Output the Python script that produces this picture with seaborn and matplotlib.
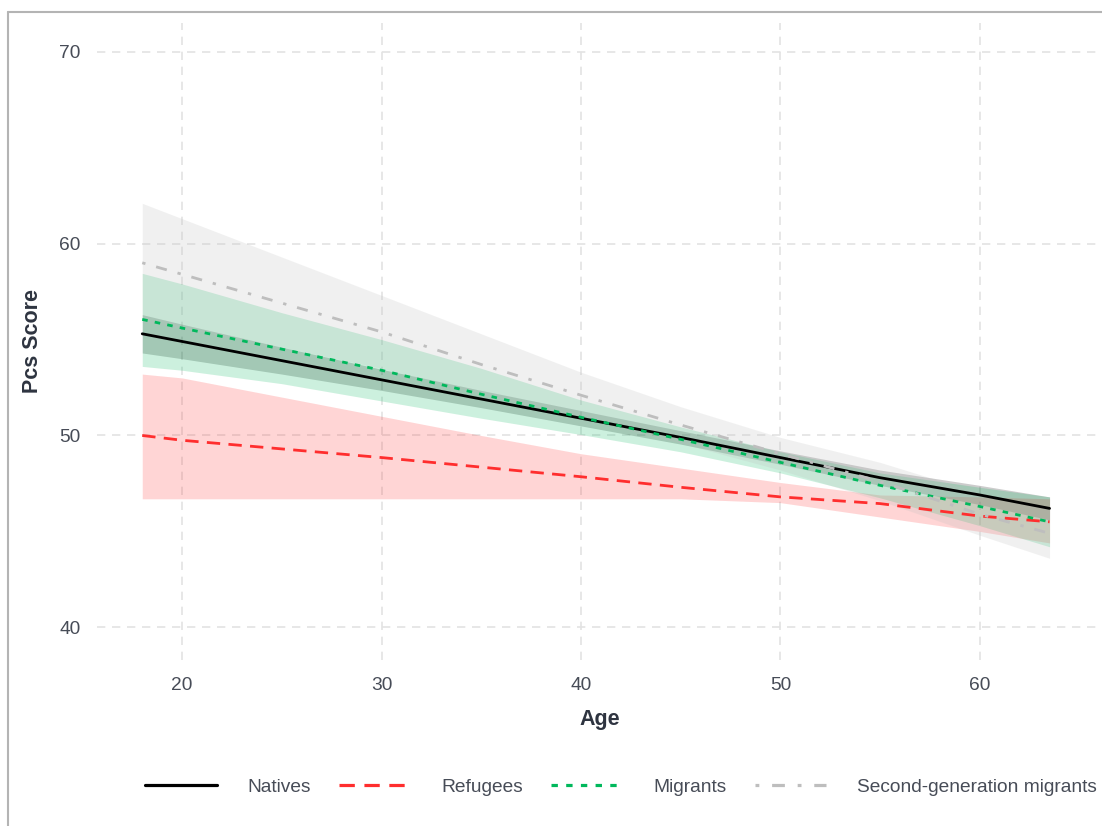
import numpy as np
import pandas as pd
import matplotlib
matplotlib.use('Agg')
import matplotlib.pyplot as plt
import seaborn as sns
from matplotlib.lines import Line2D

# Values
ages = [18, 20, 25, 30, 35, 40, 45, 50, 55, 60, 63.5]

natives = [55.3, 54.9, 53.9, 52.9, 51.9, 50.9, 49.9, 48.85, 47.8, 46.9, 46.2]
natives_lo = [54.3, 54.0, 53.2, 52.35, 51.45, 50.5, 49.55, 48.5, 47.4, 46.4, 45.6]
natives_hi = [56.3, 55.8, 54.6, 53.45, 52.35, 51.3, 50.25, 49.2, 48.2, 47.4, 46.8]

refugees = [50.0, 49.75, 49.3, 48.85, 48.35, 47.85, 47.3, 46.8, 46.45, 45.8, 45.5]
refugees_lo = [46.7, 46.7, 46.7, 46.7, 46.7, 46.7, 46.7, 46.5, 45.75, 45.0, 44.4]
refugees_hi = [53.2, 53.0, 52.0, 51.0, 50.0, 49.05, 48.3, 47.55, 46.9, 46.8, 46.7]

migrants = [56.05, 55.6, 54.5, 53.4, 52.15, 50.95, 49.8, 48.6, 47.4, 46.3, 45.5]
migrants_lo = [53.6, 53.4, 52.7, 51.8, 50.9, 50.05, 49.15, 48.05, 46.75, 45.3, 44.2]
migrants_hi = [58.45, 57.9, 56.4, 55.0, 53.5, 51.85, 50.45, 49.15, 48.05, 47.3, 46.8]

second_gen = [59.0, 58.4, 56.9, 55.4, 53.7, 52.1, 50.55, 49.05, 47.6, 45.9, 44.9]
second_gen_lo = [55.9, 55.6, 54.6, 53.5, 52.2, 50.9, 49.6, 48.2, 46.6, 44.8, 43.6]
second_gen_hi = [62.1, 61.3, 59.3, 57.3, 55.3, 53.3, 51.5, 49.9, 48.6, 47.0, 46.2]

groups = ['Natives', 'Refugees', 'Migrants', 'Second-generation migrants']
line_colors = ['#000000', '#FF2E2E', '#00B85C', '#BEBEBE']
fill_colors = ['#000000', '#FF1A1A', '#00B85C', '#BEBEBE']
fill_alpha = [0.2, 0.18, 0.2, 0.22]

series = {
    'Natives': (natives, natives_lo, natives_hi),
    'Refugees': (refugees, refugees_lo, refugees_hi),
    'Migrants': (migrants, migrants_lo, migrants_hi),
    'Second-generation migrants': (second_gen, second_gen_lo, second_gen_hi),
}

rows = []
for g in groups:
    for a, v in zip(ages, series[g][0]):
        rows.append({'Age': a, 'Pcs Score': v, 'Group': g})
df = pd.DataFrame(rows)

sns.set_style('white')
plt.rcParams['font.family'] = ['Liberation Sans', 'DejaVu Sans']

fig = plt.figure(figsize=(11.02, 8.26), dpi=100)
ax = fig.add_axes([0.088, 0.201, 0.912, 0.7712])

# confidence ribbons
for g, c, al in zip(groups, fill_colors, fill_alpha):
    _, lo, hi = series[g]
    ax.fill_between(ages, lo, hi, color=c, alpha=al, linewidth=0, zorder=1)

dashes = {
    'Natives': '',
    'Refugees': (4.8, 3),
    'Migrants': (2, 2.6),
    'Second-generation migrants': (1.2, 4, 4, 4),
}
sns.lineplot(data=df, x='Age', y='Pcs Score', hue='Group', style='Group',
             hue_order=groups, style_order=groups,
             palette=dict(zip(groups, line_colors)), dashes=dashes,
             linewidth=2.0, ax=ax, zorder=3)

ax.set_xlim(15.73, 66.13)
ax.set_ylim(38.3, 71.5)
ax.set_xticks([20, 30, 40, 50, 60])
ax.set_yticks([40, 50, 60, 70])
ax.grid(True, color='#E3E3E3', linewidth=1.2, dashes=(5, 4))
ax.set_axisbelow(True)
for s in ax.spines.values():
    s.set_visible(False)
ax.tick_params(axis='both', length=0, pad=12, labelsize=13.8, labelcolor='#474C57')

ax.set_xlabel('Age', fontsize=15.5, fontweight='bold', color='#2E3440')
ax.set_ylabel('Pcs Score', fontsize=15.5, fontweight='bold', color='#2E3440')
ax.xaxis.set_label_coords(0.5, -0.077)
ax.yaxis.set_label_coords(-0.0537, 0.5)

handles, labels = ax.get_legend_handles_labels()
ax.get_legend().remove()
for h in handles:
    h.set_linewidth(2.3)
fig.legend(handles, labels, loc='center left', bbox_to_anchor=(0.1316, 0.047),
           ncol=4, frameon=False, fontsize=13.8, handlelength=3.75,
           handletextpad=1.6, columnspacing=1.45, borderpad=0, borderaxespad=0,
           labelcolor='#474C57')

# outer border: only left and top edges show in the reference
bx, by = 8 / 1102, 1 - 12 / 826
fig.add_artist(Line2D([bx, bx], [0, by], transform=fig.transFigure,
                      color='#B4B4B4', linewidth=1.5))
fig.add_artist(Line2D([bx, 1.0], [by, by], transform=fig.transFigure,
                      color='#B4B4B4', linewidth=1.5))

fig.savefig('out.png', dpi=100)
